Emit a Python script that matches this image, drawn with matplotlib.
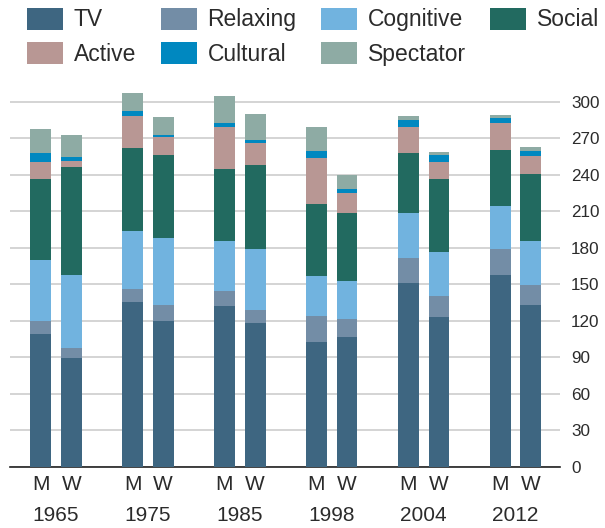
import matplotlib
matplotlib.use("Agg")
import matplotlib.pyplot as plt
import matplotlib.transforms as mtransforms
import numpy as np

plt.rcParams['font.family'] = ['Liberation Sans', 'DejaVu Sans']

years = ["1965", "1975", "1985", "1998", "2004", "2012"]
sexes = ["M", "W"]
categories = ["TV", "Relaxing", "Cognitive", "Social", "Active", "Cultural", "Spectator"]
colors = ["#3e6681", "#738da6", "#71b3df", "#226a60", "#b89794", "#0088c0", "#8eaba4"]

# Weekly hours per activity, one entry per bar (1965 M, 1965 W, 1975 M, ...)
tv        = [109.0, 89.0, 135.0, 120.0, 132.0, 118.0, 102.5, 107.0, 150.7, 123.3, 157.8, 133.2]
relaxing  = [11.0, 8.5, 11.0, 13.0, 12.6, 10.4, 21.6, 14.0, 20.8, 16.7, 21.1, 16.1]
cognitive = [49.5, 60.0, 47.7, 54.8, 40.5, 50.2, 32.4, 31.6, 36.8, 36.5, 35.6, 36.5]
social    = [67.0, 88.5, 68.0, 68.2, 59.5, 69.0, 59.4, 55.6, 49.3, 60.2, 45.5, 54.5]
active    = [14.0, 5.5, 26.3, 14.8, 34.5, 18.1, 38.1, 16.7, 21.6, 13.5, 22.5, 15.1]
cultural  = [7.0, 3.0, 4.4, 1.7, 3.5, 2.7, 5.5, 3.5, 5.5, 5.7, 4.1, 4.3]
spectator = [19.7, 18.0, 14.8, 14.5, 22.2, 21.1, 20.0, 11.5, 3.3, 2.7, 2.7, 3.1]

series = [tv, relaxing, cognitive, social, active, cultural, spectator]
yticks = [0, 30, 60, 90, 120, 150, 180, 210, 240, 270, 300]

W, H = 605, 528
fig = plt.figure(figsize=(W / 100, H / 100), dpi=100)
ax = fig.add_axes([10 / W, (H - 466.7) / H, 550 / W, (466.7 - 89.5) / H])

text_color = "#2b2b2b"

# Bar positions: M and W side by side, groups spaced three units apart
positions = []
for g in range(len(years)):
    positions += [g * 3, g * 3 + 1]
positions = np.array(positions, dtype=float)

bottom = np.zeros(len(positions))
handles = []
for name, vals, col in zip(categories, series, colors):
    vals = np.array(vals)
    b = ax.bar(positions, vals, width=0.68, bottom=bottom, color=col,
               edgecolor="none", label=name, zorder=3)
    handles.append(b)
    bottom += vals

ax.set_xlim(-1, 16.95)
ax.set_ylim(0, 310)

ax.set_yticks(yticks)
ax.yaxis.tick_right()
ax.grid(axis="y", color="#c9c9c9", linewidth=1.1, zorder=0)
ax.tick_params(axis="y", length=0, pad=8, labelsize=12.3, labelcolor=text_color)

ax.set_xticks(positions)
ax.set_xticklabels(sexes * len(years))
ax.tick_params(axis="x", length=0, pad=6, labelsize=15, labelcolor=text_color)

for side in ["top", "left", "right"]:
    ax.spines[side].set_visible(False)
ax.spines["bottom"].set_color("#222222")
ax.spines["bottom"].set_linewidth(1.2)

# Year labels under each M/W pair
trans = mtransforms.blended_transform_factory(ax.transData, fig.transFigure)
for g, yr in enumerate(years):
    ax.text(g * 3 + 0.5, 1 - 515.5 / H, yr, transform=trans, ha="center",
            va="center", fontsize=15, color=text_color)

# Legend: row-major order over four columns
order = [0, 4, 1, 5, 2, 6, 3]
leg = fig.legend([handles[i] for i in order], [categories[i] for i in order],
                 ncol=4, loc="upper left", bbox_to_anchor=(27 / W, 1 - 7.5 / H),
                 frameon=False, fontsize=16.5, handlelength=1.57, handleheight=1.1,
                 handletextpad=0.48, columnspacing=1.06, labelspacing=0.47,
                 borderpad=0, borderaxespad=0, labelcolor=text_color)

fig.savefig("out.png", dpi=100)
